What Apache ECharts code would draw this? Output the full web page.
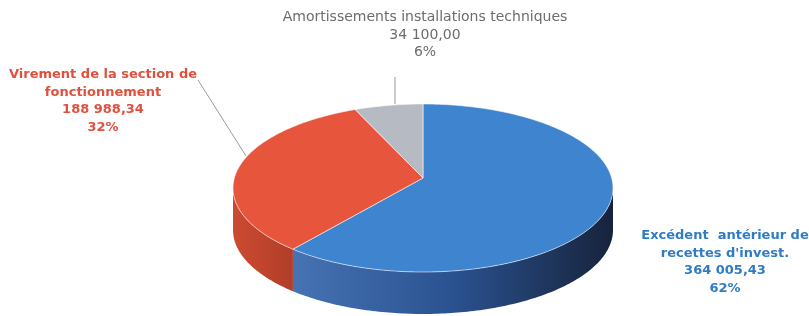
<!DOCTYPE html>
<html>
<head>
<meta charset="utf-8">
<title>Recettes d'investissement</title>
<script src="https://cdn.jsdelivr.net/npm/echarts@6/dist/echarts.min.js"></script>
<style>
  html, body { margin: 0; padding: 0; background: #fff; }
  #chart { width: 809px; height: 316px; }
</style>
</head>
<body>
<div id="chart"></div>
<script>
// données du graphique
var categories = ['Excédent  antérieur de\nrecettes d\'invest.', 'Virement de la section de\nfonctionnement', 'Amortissements installations techniques'];
var values = [364005.43, 188988.34, 34100.00];

// couleurs : face supérieure, côté (gauche -> droite), texte
var topColors = ['#3e84cf', '#e7563c', '#b6bac2'];
var sideColors = [['#4673b4', '#2a5290', '#17233c'], ['#cc4a31', '#bf442d', '#b03e29'], ['#9a9ea6', '#8a8e96', '#7a7e86']];
var textColors = ['#2f7cc4', '#e0503c', '#6c6c6c'];

// géométrie du camembert 3D (ellipse)
var cx = 423, cy = 188, rx = 190, ry = 84, depth = 42, apexDy = -10;

// position des étiquettes (centre haut) et lignes de rappel
var labelPos = [[725, 227], [103, 66], [425, 9]];
var leaders = [null, [[198, 80], [246, 156]], [[395, 77], [395, 104]]];

var total = values.reduce(function (a, b) { return a + b; }, 0);
var starts = [], acc = 0;
values.forEach(function (v) { starts.push(acc / total * Math.PI * 2); acc += v; });

function fmt(v) {
  var p = v.toFixed(2).split('.');
  return p[0].replace(/\B(?=(\d{3})+(?!\d))/g, ' ') + ',' + p[1];
}

function pt(t, dy) {
  return [cx + rx * Math.sin(t), cy - ry * Math.cos(t) + (dy || 0)];
}

function arc(a, b, dy) {
  var pts = [], n = Math.max(2, Math.ceil((b - a) / (Math.PI / 180)));
  for (var i = 0; i <= n; i++) pts.push(pt(a + (b - a) * i / n, dy));
  return pts;
}

function sliceAngles(idx, v) {
  var a = starts[idx];
  return [a, a + v / total * Math.PI * 2];
}

var chart = echarts.init(document.getElementById('chart'));

var graphics = [];
values.forEach(function (v, i) {
  var txt = categories[i] + '\n' + fmt(v) + '\n' + Math.round(v / total * 100) + '%';
  graphics.push({
    type: 'text',
    x: labelPos[i][0],
    y: labelPos[i][1],
    style: {
      text: txt,
      fill: textColors[i],
      fontSize: i === 2 ? 14 : 13,
      fontWeight: i === 2 ? 'normal' : 'bold',
      fontFamily: 'DejaVu Sans, sans-serif',
      align: 'center',
      verticalAlign: 'top',
      lineHeight: 17.5
    }
  });
  if (leaders[i]) {
    graphics.push({
      type: 'line',
      shape: { x1: leaders[i][0][0], y1: leaders[i][0][1], x2: leaders[i][1][0], y2: leaders[i][1][1] },
      style: { stroke: '#9a9a9a', lineWidth: 1 }
    });
  }
});

var option = {
  animation: false,
  graphic: graphics,
  series: [
    {
      // côtés visibles (moitié avant)
      type: 'custom',
      coordinateSystem: 'none',
      data: values.map(function (v) { return [v]; }),
      renderItem: function (params, api) {
        var ang = sliceAngles(params.dataIndex, api.value(0));
        var s = Math.max(ang[0], Math.PI / 2), e = Math.min(ang[1], Math.PI * 1.5);
        if (e <= s) return null;
        var top = arc(s, e, 0), bot = arc(s, e, depth).reverse();
        var c = sideColors[params.dataIndex];
        return {
          type: 'polygon',
          shape: { points: top.concat(bot) },
          style: {
            fill: new echarts.graphic.LinearGradient(0, 0, 1, 0, [
              { offset: 0, color: c[0] }, { offset: 0.5, color: c[1] }, { offset: 1, color: c[2] }
            ])
          }
        };
      }
    },
    {
      // faces supérieures
      type: 'custom',
      coordinateSystem: 'none',
      data: values.map(function (v) { return [v]; }),
      renderItem: function (params, api) {
        var ang = sliceAngles(params.dataIndex, api.value(0));
        var pts = [[cx, cy + apexDy]].concat(arc(ang[0], ang[1], 0));
        return {
          type: 'polygon',
          shape: { points: pts },
          style: {
            fill: topColors[params.dataIndex],
            stroke: 'rgba(255,255,255,0.55)',
            lineWidth: 1
          }
        };
      }
    }
  ]
};

chart.setOption(option);
window.addEventListener('resize', function () { chart.resize(); });
</script>
</body>
</html>
